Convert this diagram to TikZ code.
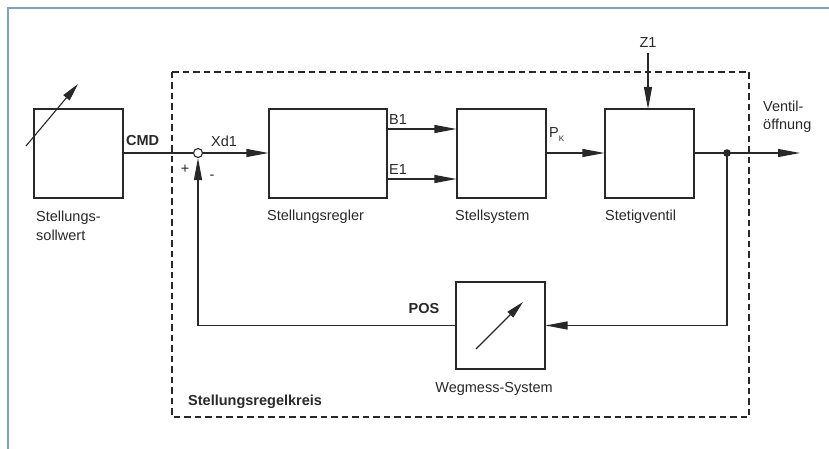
\documentclass[tikz,border=0pt]{standalone}
\usepackage{fontspec}
\setmainfont{Liberation Sans}
\usetikzlibrary{arrows.meta,calc}
\definecolor{lineg}{RGB}{40,40,40}
\definecolor{frameblue}{RGB}{125,160,210}
\begin{document}
\begin{tikzpicture}[x=1pt,y=-1pt,
 blk/.style={draw=lineg, line width=1.1pt, minimum width=89pt, minimum height=89pt, inner sep=0pt},
 ln/.style={draw=lineg, line width=1.1pt},
 arr/.style={ln, -{Triangle[length=22pt,width=8pt]}},
 lbl/.style={font=\fontsize{14.5}{19}\selectfont, inner sep=0pt, text=lineg},
 blbl/.style={font=\fontsize{14.5}{19}\selectfont\bfseries, inner sep=0pt, text=lineg},
 ]
\useasboundingbox (0,0) rectangle (829,449);
% frame
\draw[frameblue, line width=1.6pt] (8,449) -- (8,8) -- (829,8);
% dashed loop boundary
\draw[lineg, line width=1.2pt, dash pattern=on 6.5pt off 4pt] (172,72) rectangle (749,417);

% blocks
\node[blk] (sw) at (78.5,153.5) {};
\node[blk, minimum width=118pt] (reg) at (328,153.5) {};
\node[blk] (stell) at (501.5,153.5) {};
\node[blk] (ventil) at (649.5,153.5) {};
\node[blk, minimum height=87pt] (weg) at (500.5,325.5) {};

% summing point and junction
\node[draw=lineg, line width=1.1pt, circle, minimum size=9pt, inner sep=0pt, fill=white] (sum) at (198,153) {};
\coordinate (junc) at (727,153);
\coordinate (out) at (800,153);

% setpoint adjust arrow
\coordinate (sa) at (26,146);
\coordinate (sb) at (78,84);
\draw[ln, -{Triangle[length=18pt,width=8pt]}] (sa) -- (sb);
% measuring arrow
\coordinate (wa) at (476,349);
\coordinate (wb) at (523,302);
\draw[ln, -{Triangle[length=18pt,width=8pt]}] (wa) -- (wb);

% labels
\node[lbl, anchor=base west] (t1) at (36,221) {Stellungs-};
\node[lbl, anchor=base west] (t2) at (36,240) {sollwert};
\node[lbl, anchor=base west] (t3) at (267,220) {Stellungsregler};
\node[lbl, anchor=base west] (t4) at (455,220) {Stellsystem};
\node[lbl, anchor=base west] (t5) at (605,220) {Stetigventil};
\node[lbl, anchor=base] (t6) at (494,392) {Wegmess-System};
\node[blbl, anchor=base west] (t7) at (188,405) {Stellungsregelkreis};
\node[blbl, anchor=base west] (cmd) at (126,146) {CMD};
\node[lbl, anchor=base west] (xd1) at (211,146.5) {Xd1};
\node[lbl] (plus) at (185,169) {+};
\node[lbl] (minus) at (212,177) {-};
\node[lbl, anchor=base west] (b1) at (389,125) {B1};
\node[lbl, anchor=base west] (e1) at (389,175) {E1};
\node[lbl, anchor=base west] (pk) at (549,138) {P\raisebox{-3.5pt}{\fontsize{8}{8}\selectfont K}};
\node[lbl, anchor=base] (z1) at (648,48) {Z1};
\node[lbl, anchor=base west] (v1) at (763,112) {Ventil-};
\node[lbl, anchor=base west] (v2) at (763,130) {öffnung};
\node[blbl, anchor=base] (pos) at (424,313) {POS};

% connectors
\draw[ln] (sw.east |- sum) -- (sum.west);
\draw[arr] (sum.east) -- (reg.west |- sum);
\draw[arr] (reg.east |- 0,129) -- (stell.west |- 0,129);
\draw[arr] (reg.east |- 0,179) -- (stell.west |- 0,179);
\draw[arr] (stell.east |- 0,153) -- (ventil.west |- 0,153);
\draw[arr] (648,53) -- (648,109);
\draw[ln] (ventil.east |- junc) -- (junc);
\draw[arr] (junc) -- (out);
\draw[arr] (junc) -- (junc |- weg) -- (weg.east);
\draw[arr] (weg.west) -- (sum |- weg) -- (sum.south);
\fill[lineg] (junc) circle (3.8pt);
\end{tikzpicture}
\end{document}
